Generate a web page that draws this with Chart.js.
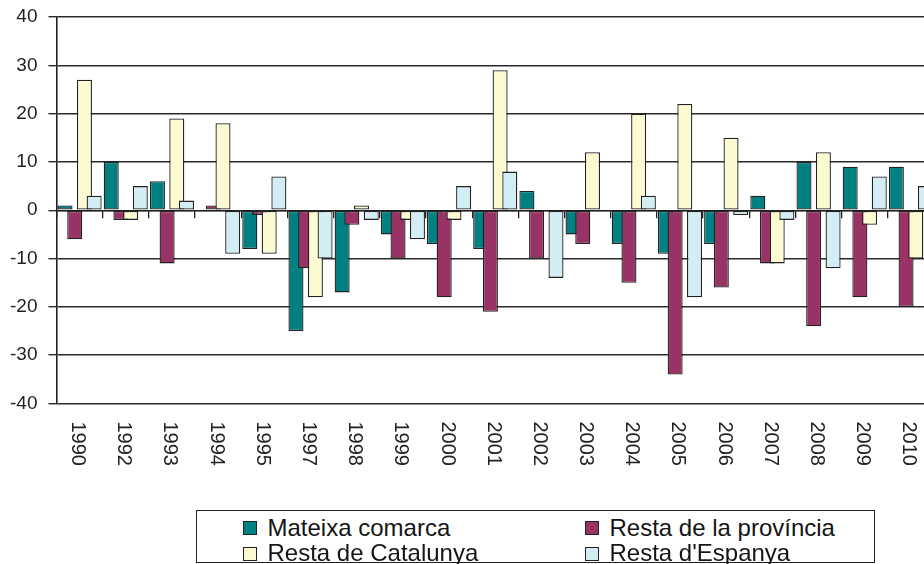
<!DOCTYPE html>
<html>
<head>
<meta charset="utf-8">
<title>Saldo migratori</title>
<script src="https://cdn.jsdelivr.net/npm/chart.js@4.4.1/dist/chart.umd.min.js"></script>
<style>
  html, body { margin: 0; padding: 0; background: #fff; overflow: hidden; }
  #wrap { position: absolute; left: 0; top: 0; width: 940px; height: 564px; }
  .legend {
    position: absolute; left: 196px; top: 510px; width: 679px; height: 53px;
    border: 1.5px solid #222; box-sizing: border-box; background: #fff;
    font-family: "Liberation Sans", Arial, sans-serif; font-size: 24px; color: #151515;
  }
  .legend .txt { position: absolute; line-height: 25px; white-space: nowrap; }
  .legend .sw { position: absolute; width: 14px; height: 14px; border: 1px solid #222; box-sizing: border-box; }
</style>
</head>
<body>
<div id="wrap"><canvas id="chart"></canvas></div>
<div class="legend" id="legend"></div>
<script>
// Dades (llegides del gràfic)
const years = ['1990', '1992', '1993', '1994', '1995', '1997', '1998', '1999', '2000', '2001',
               '2002', '2003', '2004', '2005', '2006', '2007', '2008', '2009', '2010'];
const mateixaComarca = [1, 10, 6, 0, -8, -25, -17, -5, -7, -8, 4, -5, -7, -9, -7, 3, 10, 9, 9];
const restaProvincia = [-6, -2, -11, 1, -1, -12, -3, -10, -18, -21, -10, -7, -15, -34, -16, -11, -24, -18, -20];
const restaCatalunya = [27, -2, 19, 18, -9, -18, 1, -2, -2, 29, 0, 12, 20, 22, 15, -11, 12, -3, -10];
const restaEspanya = [3, 5, 2, -9, 7, -10, -2, -6, 5, 8, -14, 0, 3, -18, -1, -2, -12, 7, 5];
const seriesNames = ['Mateixa comarca', 'Resta de la província', 'Resta de Catalunya', "Resta d'Espanya"];
const seriesColors = ['#008080', '#993366', '#FCFAD0', '#D3EDF4'];
const yMin = -40, yMax = 40, yStep = 10;

const FONT = '"Liberation Sans", Arial, sans-serif';
const INK = '#222';

// Les barres de la dreta es dibuixen a sobre (com a l'original)
const drawForward = {
    id: 'drawForward',
    beforeDatasetsDraw(chart) {
        chart.getSortedVisibleDatasetMetas().forEach(meta => meta.controller.draw());
        return false;
    }
};

// Etiquetes dels anys, girades cap avall a sota del gràfic
const yearLabels = {
    id: 'yearLabels',
    afterDraw(chart) {
        const { ctx, chartArea } = chart;
        const x = chart.scales.x;
        ctx.save();
        ctx.font = '20px ' + FONT;
        ctx.fillStyle = INK;
        ctx.textAlign = 'left';
        ctx.textBaseline = 'middle';
        chart.data.labels.forEach((label, i) => {
            ctx.save();
            ctx.translate(x.getPixelForTick(i) - 2, chartArea.bottom + 18);
            ctx.rotate(Math.PI / 2);
            ctx.fillText(label, 0, 0);
            ctx.restore();
        });
        ctx.restore();
    }
};

const allSeries = [mateixaComarca, restaProvincia, restaCatalunya, restaEspanya];

new Chart(document.getElementById('chart'), {
    type: 'bar',
    data: {
        labels: years,
        datasets: allSeries.map((values, i) => ({
            label: seriesNames[i],
            data: values,
            backgroundColor: seriesColors[i],
            borderColor: INK,
            borderWidth: 1.3,
            borderSkipped: false,
            categoryPercentage: 0.84,
            barPercentage: 1.55
        }))
    },
    options: {
        responsive: true,
        maintainAspectRatio: false,
        animation: false,
        layout: { padding: { top: 17, right: 6, bottom: 160.5, left: 0 } },
        plugins: {
            legend: { display: false },
            tooltip: { enabled: false }
        },
        scales: {
            x: {
                position: { y: 0 },
                offset: true,
                grid: {
                    offset: true,
                    drawOnChartArea: false,
                    drawTicks: true,
                    tickLength: 7,
                    color: INK,
                    lineWidth: 1.3
                },
                border: { display: true, color: INK, width: 1.3 },
                ticks: { display: false }
            },
            y: {
                min: yMin,
                max: yMax,
                ticks: {
                    stepSize: yStep,
                    padding: 11,
                    color: INK,
                    font: { family: FONT, size: 19 }
                },
                grid: { color: '#2a2a2a', lineWidth: 1.4, drawTicks: true, tickLength: 8 },
                border: { display: true, color: INK, width: 1.6 },
                afterFit(scale) {
                    scale.width = 56.5;
                    scale.paddingTop = 0;
                    scale.paddingBottom = 0;
                }
            }
        }
    },
    plugins: [drawForward, yearLabels]
});

// Llegenda en dues columnes
const legendEl = document.getElementById('legend');
const legendSlots = [
    { sw: [46, 9.5], txt: [70.5, 3.7] },
    { sw: [387.5, 9.5], txt: [412.5, 3.7] },
    { sw: [46, 35.5], txt: [70.5, 28.7] },
    { sw: [387.5, 35.5], txt: [412.5, 28.7] }
];
seriesNames.forEach((name, i) => {
    const slot = legendSlots[i];
    const sw = document.createElement('div');
    sw.className = 'sw';
    sw.style.left = slot.sw[0] + 'px';
    sw.style.top = slot.sw[1] + 'px';
    sw.style.background = seriesColors[i];
    const txt = document.createElement('div');
    txt.className = 'txt';
    txt.style.left = slot.txt[0] + 'px';
    txt.style.top = slot.txt[1] + 'px';
    txt.textContent = name;
    legendEl.appendChild(sw);
    legendEl.appendChild(txt);
});
</script>
</body>
</html>
